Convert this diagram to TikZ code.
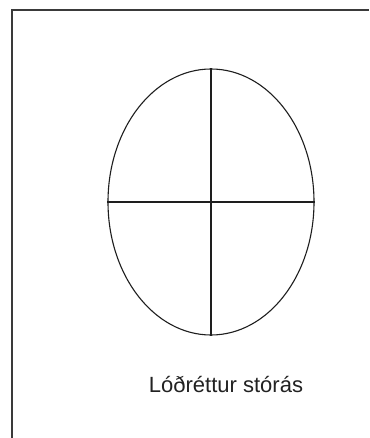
\documentclass[tikz,border=0pt]{standalone}
\usepackage{fontspec}
\setmainfont{Liberation Sans}
\usepackage{tikz}
\usetikzlibrary{shapes.geometric,positioning}
\definecolor{cFrame}{HTML}{3A3A3A}
\definecolor{cLine}{HTML}{1E1E1E}
\definecolor{cText}{HTML}{222222}
\tikzset{
  frame/.style = {cFrame, line width=1.6pt},
  egg/.style   = {ellipse, draw=cLine, line width=1.1pt, inner sep=0pt,
                  minimum width=206pt, minimum height=266pt},
  axis/.style  = {cLine, line width=1.1pt},
  capt/.style  = {text=cText, font=\fontsize{22}{25}\selectfont, inner sep=0pt},
}
\begin{document}
\begin{tikzpicture}[x=1pt,y=-1pt]
  \useasboundingbox (0,0) rectangle (369,438);
  \fill[white] (0,0) rectangle (369,438);
  % frame (only top and left edges show)
  \coordinate (fl) at (12,438);
  \coordinate (ftl) at (12,10);
  \coordinate (fr) at (369,10);
  \draw[frame] (fl) -- (ftl) -- (fr);
  % ellipse with its two axes
  \node[egg] (egg) at (211,202) {};
  \draw[axis] (egg.north) -- (egg.south);
  \draw[axis] (egg.west) -- (egg.east);
  \node[capt, anchor=base] (cap) at (226,392) {Lóðréttur stórás};
\end{tikzpicture}
\end{document}
